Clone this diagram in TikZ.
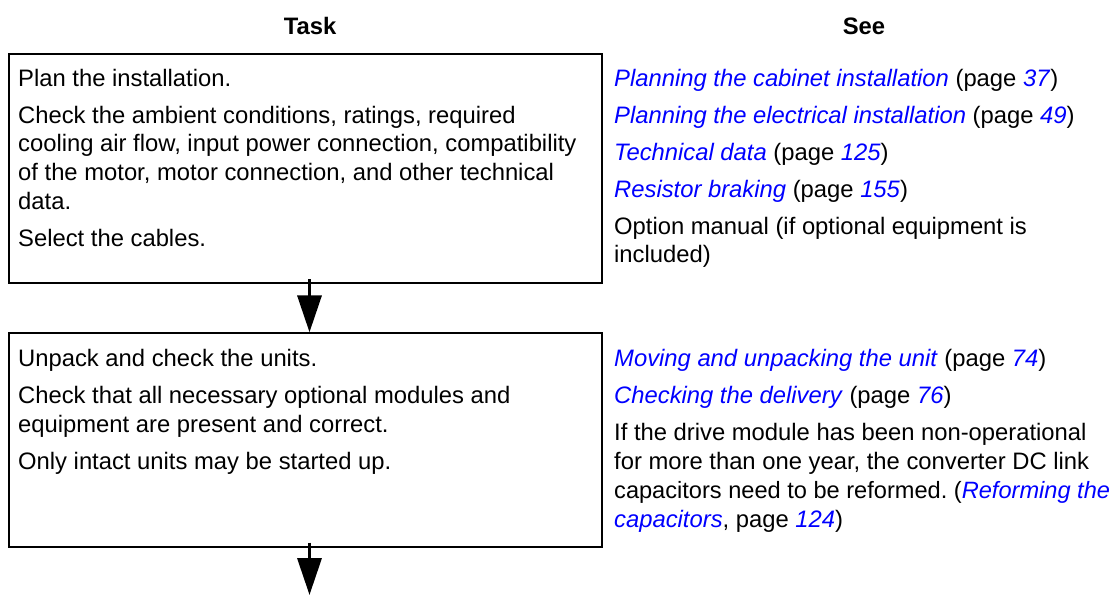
\documentclass[tikz,border=0pt]{standalone}
\usepackage{fontspec}
\setmainfont{Liberation Sans}
\usetikzlibrary{arrows.meta}
\frenchspacing
\definecolor{linkblue}{RGB}{0,0,255}
\newcommand{\lk}[1]{\textcolor{linkblue}{\textit{#1}}}
\tikzset{
  txt/.style={anchor=base west, inner sep=0pt, font=\fontsize{23.8}{29}\selectfont},
  hdr/.style={anchor=base, inner sep=0pt, font=\fontsize{23.8}{29}\selectfont\bfseries},
  stepbox/.style={draw, line width=2pt, rectangle, inner sep=0pt},
  flowarrow/.style={line width=3.5pt, -{Triangle[width=24pt,length=37pt]}}
}
\begin{document}
\begin{tikzpicture}[x=1pt,y=-1pt]
\useasboundingbox (0,0) rectangle (1114,595);
% headers
\node[hdr] (htask) at (310,34.3) {Task};
\node[hdr] (hsee) at (864,34.3) {See};
% boxes
\node[stepbox, minimum width=593pt, minimum height=229pt] (b1) at (305.5,168.5) {};
\node[stepbox, minimum width=593pt, minimum height=213.4pt] (b2) at (305.5,440) {};
% arrows
\coordinate (ax) at (309.5,0);
\coordinate (endpt) at (309.5,595);
\draw[flowarrow] ([yshift=5pt]b1.south -| ax) -- (b2.north -| ax);
\draw[flowarrow] ([yshift=5pt]b2.south -| ax) -- (endpt);
% box 1, left
\node[txt] (t11) at (18,86) {Plan the installation.};
\node[txt] (t12) at (18,123) {Check the ambient conditions, ratings, required};
\node[txt] (t13) at (18,151.8) {cooling air flow, input power connection, compatibility};
\node[txt] (t14) at (18,180.6) {of the motor, motor connection, and other technical};
\node[txt] (t15) at (18,209.4) {data.};
\node[txt] (t16) at (18,246.4) {Select the cables.};
% box 1, right
\node[txt] (s11) at (614,86) {\lk{Planning the cabinet installation} (page \lk{37})};
\node[txt] (s12) at (614,123) {\lk{Planning the electrical installation} (page \lk{49})};
\node[txt] (s13) at (614,160) {\lk{Technical data} (page \lk{125})};
\node[txt] (s14) at (614,197) {\lk{Resistor braking} (page \lk{155})};
\node[txt] (s15) at (614,234) {Option manual (if optional equipment is};
\node[txt] (s16) at (614,262.8) {included)};
% box 2, left
\node[txt] (t21) at (18,366.7) {Unpack and check the units.};
\node[txt] (t22) at (18,403.7) {Check that all necessary optional modules and};
\node[txt] (t23) at (18,432.5) {equipment are present and correct.};
\node[txt] (t24) at (18,469.5) {Only intact units may be started up.};
% box 2, right
\node[txt] (s21) at (614,366.7) {\lk{Moving and unpacking the unit} (page \lk{74})};
\node[txt] (s22) at (614,403.7) {\lk{Checking the delivery} (page \lk{76})};
\node[txt] (s23) at (614,440.7) {If the drive module has been non-operational};
\node[txt] (s24) at (614,469.5) {for more than one year, the converter DC link};
\node[txt, font=\fontsize{23.6}{29}\selectfont] (s25) at (614,498.3) {capacitors need to be reformed. (\lk{Reforming the}};
\node[txt] (s26) at (614,527.1) {\lk{capacitors}, page \lk{124})};
\end{tikzpicture}
\end{document}
